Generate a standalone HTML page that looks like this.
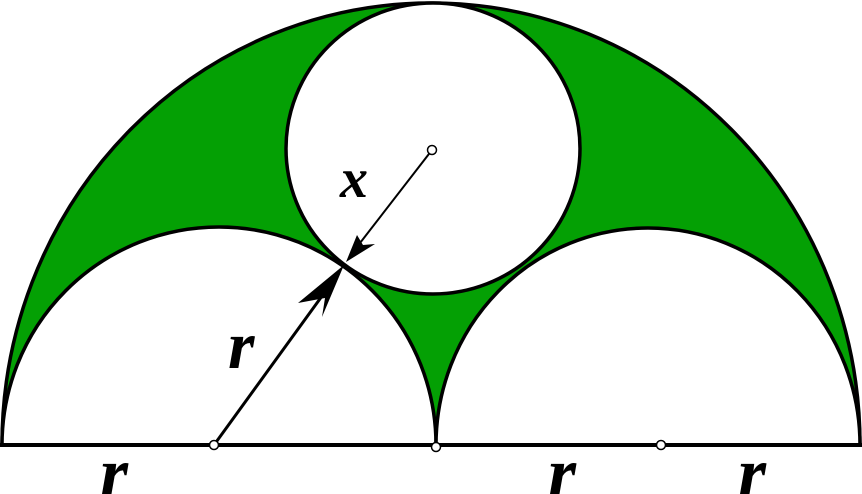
<!DOCTYPE html>
<html><head><style>html,body{margin:0;padding:0;background:#fff;overflow:hidden;width:862px;height:494px}svg{display:block}</style></head>
<body>
<svg width="862" height="494" viewBox="0 0 862 494" xmlns="http://www.w3.org/2000/svg">
<path d="M2,445 A429,442 0 0 1 860,445 Z" fill="#04a004" stroke="#000" stroke-width="3.5"/>
<path d="M2,445 A217,218 0 0 1 436,445 Z" fill="#fff" stroke="#000" stroke-width="3.5"/>
<path d="M436,445 A212,217 0 0 1 860,445 Z" fill="#fff" stroke="#000" stroke-width="3.5"/>
<ellipse cx="433" cy="148.5" rx="147" ry="145.5" fill="#fff" stroke="#000" stroke-width="3.5"/>
<line x1="0" y1="445" x2="862" y2="445" stroke="#000" stroke-width="4"/>
<line x1="214" y1="445" x2="330" y2="285" stroke="#000" stroke-width="3"/>
<path d="M344,265 L322,317 L325,298 L298,303 Z" fill="#000"/>
<line x1="432" y1="150" x2="360" y2="243" stroke="#000" stroke-width="2"/>
<path d="M346,262 L357,235 L363,245 L375,244 Z" fill="#000"/>
<g fill="#fff" stroke="#000" stroke-width="1.5">
<circle cx="432" cy="150" r="4.5"/><circle cx="214" cy="445" r="4.5"/><circle cx="436" cy="447" r="4.5"/><circle cx="661" cy="445" r="4.5"/>
</g>
<g font-family="Liberation Serif, serif" font-style="italic" font-weight="bold" fill="#000">
<text x="340" y="197" font-size="56">x</text>
<text x="228" y="368" font-size="68">r</text>
<text x="100" y="497" font-size="72">r</text>
<text x="548" y="497" font-size="72">r</text>
<text x="738" y="497" font-size="72">r</text>
</g>
</svg>
</body></html>
